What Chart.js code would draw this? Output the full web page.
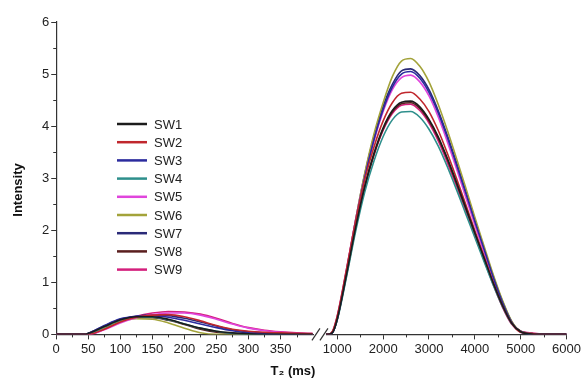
<!DOCTYPE html>
<html>
<head>
<meta charset="utf-8">
<script src="https://cdn.jsdelivr.net/npm/chart.js@4.4.1/dist/chart.umd.min.js"></script>
<style>
  html, body { margin: 0; padding: 0; background: #fff; }
  #wrap { width: 583px; height: 383px; }
</style>
</head>
<body>
<div id="wrap"><canvas id="t2Chart"></canvas></div>
<script>
// T2 (ms) sampling of the two segments of the broken axis
const t2Short = [0, 25, 45, 50, 75, 100, 125, 150, 175, 200, 225, 250, 275, 300, 325, 350, 375, 400];
const t2Long = [600, 800, 900, 1000, 1200, 1400, 1600, 1800, 2000, 2200, 2400, 2600, 2800, 3000, 3200, 3400, 3600, 3800, 4000, 4200, 4400, 4600, 4800, 5000, 5200, 5400, 5600, 6000];

const sampleNames = ['SW1', 'SW2', 'SW3', 'SW4', 'SW5', 'SW6', 'SW7', 'SW8', 'SW9'];
const sampleColors = ['#1c1c1c', '#c0272d', '#2b2b9e', '#2e8f8c', '#e045dc', '#a3a33a', '#2a2a78', '#5a1e1e', '#d41f7c'];

// small peak (0 - 400 ms)
const sw1Short = [0, 0, 0, 0.02, 0.15, 0.28, 0.34, 0.34, 0.29, 0.20, 0.12, 0.06, 0.03, 0.01, 0, 0, 0, 0];
const sw2Short = [0, 0, 0, 0, 0.10, 0.24, 0.33, 0.37, 0.38, 0.34, 0.26, 0.17, 0.10, 0.06, 0.04, 0.03, 0.02, 0.01];
const sw3Short = [0, 0, 0, 0.02, 0.17, 0.30, 0.35, 0.36, 0.33, 0.27, 0.20, 0.13, 0.07, 0.03, 0.01, 0, 0, 0];
const sw4Short = [0, 0, 0, 0.01, 0.14, 0.27, 0.33, 0.33, 0.28, 0.20, 0.12, 0.06, 0.02, 0, 0, 0, 0, 0];
const sw5Short = [0, 0, 0, 0, 0.09, 0.22, 0.32, 0.38, 0.41, 0.41, 0.37, 0.29, 0.20, 0.12, 0.07, 0.04, 0.02, 0.01];
const sw6Short = [0, 0, 0, 0.01, 0.13, 0.25, 0.30, 0.29, 0.22, 0.12, 0.03, 0, 0, 0, 0, 0, 0, 0];
const sw7Short = [0, 0, 0, 0.02, 0.16, 0.29, 0.35, 0.37, 0.36, 0.31, 0.24, 0.16, 0.09, 0.05, 0.03, 0.01, 0, 0];
const sw8Short = [0, 0, 0, 0.01, 0.13, 0.26, 0.32, 0.32, 0.27, 0.19, 0.10, 0.04, 0.01, 0, 0, 0, 0, 0];
const sw9Short = [0, 0, 0, 0, 0.10, 0.25, 0.35, 0.41, 0.44, 0.43, 0.39, 0.31, 0.21, 0.13, 0.08, 0.05, 0.03, 0.02];

// main peak (600 - 6000 ms)
const sw1Long = [0, 0, 0.04, 0.30, 1.15, 2.05, 2.85, 3.48, 3.97, 4.30, 4.46, 4.48, 4.37, 4.13, 3.80, 3.38, 2.92, 2.44, 1.95, 1.47, 0.99, 0.56, 0.22, 0.05, 0.01, 0, 0, 0];
const sw2Long = [0, 0, 0.07, 0.36, 1.25, 2.18, 2.98, 3.60, 4.10, 4.45, 4.63, 4.65, 4.52, 4.28, 3.92, 3.48, 3.00, 2.50, 1.99, 1.50, 1.00, 0.56, 0.22, 0.04, 0.02, 0, 0, 0];
const sw3Long = [0, 0, 0.04, 0.30, 1.18, 2.15, 3.02, 3.74, 4.32, 4.75, 5.00, 5.05, 4.92, 4.65, 4.26, 3.78, 3.26, 2.72, 2.17, 1.64, 1.10, 0.62, 0.24, 0.04, 0.01, 0, 0, 0];
const sw4Long = [0, 0, 0.04, 0.28, 1.10, 1.98, 2.74, 3.33, 3.80, 4.12, 4.27, 4.28, 4.17, 3.94, 3.62, 3.22, 2.78, 2.32, 1.86, 1.40, 0.95, 0.54, 0.21, 0.05, 0.01, 0, 0, 0];
const sw5Long = [0, 0, 0.06, 0.35, 1.25, 2.20, 3.02, 3.72, 4.28, 4.70, 4.93, 4.98, 4.85, 4.58, 4.18, 3.70, 3.18, 2.64, 2.10, 1.58, 1.05, 0.58, 0.22, 0.05, 0.02, 0, 0, 0];
const sw6Long = [0, 0, 0.05, 0.30, 1.20, 2.20, 3.10, 3.85, 4.45, 4.95, 5.25, 5.30, 5.15, 4.85, 4.42, 3.92, 3.38, 2.82, 2.25, 1.70, 1.15, 0.66, 0.26, 0.05, 0.02, 0, 0, 0];
const sw7Long = [0, 0, 0.05, 0.32, 1.22, 2.20, 3.08, 3.80, 4.38, 4.80, 5.06, 5.10, 4.97, 4.70, 4.30, 3.82, 3.30, 2.76, 2.20, 1.66, 1.12, 0.64, 0.25, 0.05, 0.02, 0, 0, 0];
const sw8Long = [0, 0, 0.04, 0.29, 1.13, 2.03, 2.82, 3.45, 3.94, 4.27, 4.43, 4.45, 4.34, 4.10, 3.77, 3.36, 2.90, 2.43, 1.95, 1.47, 1.00, 0.57, 0.23, 0.06, 0.02, 0, 0, 0];
const sw9Long = [0, 0, 0.06, 0.34, 1.20, 2.08, 2.85, 3.45, 3.92, 4.24, 4.40, 4.42, 4.30, 4.06, 3.72, 3.30, 2.85, 2.38, 1.90, 1.43, 0.96, 0.53, 0.20, 0.06, 0.03, 0.01, 0, 0];

const shortSeries = [sw1Short, sw2Short, sw3Short, sw4Short, sw5Short, sw6Short, sw7Short, sw8Short, sw9Short];
const longSeries = [sw1Long, sw2Long, sw3Long, sw4Long, sw5Long, sw6Long, sw7Long, sw8Long, sw9Long];

const yTicks = [0, 1, 2, 3, 4, 5, 6];
const yMinor = [0.5, 1.5, 2.5, 3.5, 4.5, 5.5];
const xShortTicks = [0, 50, 100, 150, 200, 250, 300, 350];
const xShortMinor = [25, 75, 125, 175, 225, 275, 325, 375];
const xLongTicks = [1000, 2000, 3000, 4000, 5000, 6000];
const xLongMinor = [1500, 2500, 3500, 4500, 5500];

const FONT = "'Liberation Sans', Arial, sans-serif";

function toPoints(xs, ys) {
  return xs.map((x, i) => ({ x: x, y: ys[i] }));
}

const datasets = [];
sampleNames.forEach((name, i) => {
  const common = {
    label: name,
    borderColor: sampleColors[i],
    backgroundColor: sampleColors[i],
    borderWidth: 1.6,
    pointRadius: 0,
    cubicInterpolationMode: 'monotone',
    fill: false
  };
  datasets.push(Object.assign({}, common, { data: toPoints(t2Short, shortSeries[i]), xAxisID: 'xShort' }));
  datasets.push(Object.assign({}, common, { data: toPoints(t2Long, longSeries[i]), xAxisID: 'xLong' }));
});

// minor ticks, legend inside the plot, titles and the axis break
const decorations = {
  id: 'decorations',
  beforeDatasetsDraw(chart) {
    const ctx = chart.ctx;
    const { xShort, xLong, y } = chart.scales;
    ctx.save();
    ctx.strokeStyle = '#333';
    ctx.lineWidth = 1;
    ctx.beginPath();
    xShortMinor.forEach(v => {
      const px = Math.round(xShort.getPixelForValue(v)) + 0.5;
      ctx.moveTo(px, y.bottom);
      ctx.lineTo(px, y.bottom + 3);
    });
    xLongMinor.forEach(v => {
      const px = Math.round(xLong.getPixelForValue(v)) + 0.5;
      ctx.moveTo(px, y.bottom);
      ctx.lineTo(px, y.bottom + 3);
    });
    yMinor.forEach(v => {
      const py = Math.round(y.getPixelForValue(v)) + 0.5;
      ctx.moveTo(y.right - 3, py);
      ctx.lineTo(y.right, py);
    });
    ctx.stroke();
    ctx.restore();
  },
  afterDraw(chart) {
    const ctx = chart.ctx;
    const xs = chart.scales.xShort;
    const yScale = chart.scales.y;
    ctx.save();

    // axis break marks
    const bx = xs.right + 1;
    const by = yScale.bottom;
    ctx.fillStyle = '#fff';
    ctx.fillRect(bx - 6, by - 2, 12, 4);
    ctx.strokeStyle = '#333';
    ctx.lineWidth = 1.2;
    [-4, 4].forEach(off => {
      ctx.beginPath();
      ctx.moveTo(bx + off - 4, by + 6);
      ctx.lineTo(bx + off + 4, by - 6);
      ctx.stroke();
    });

    // legend
    ctx.font = '13px ' + FONT;
    ctx.textBaseline = 'middle';
    ctx.textAlign = 'left';
    sampleNames.forEach((name, i) => {
      const ly = 124 + i * 18.2;
      ctx.strokeStyle = sampleColors[i];
      ctx.lineWidth = 2.5;
      ctx.beginPath();
      ctx.moveTo(117, ly);
      ctx.lineTo(147, ly);
      ctx.stroke();
      ctx.fillStyle = '#222';
      ctx.fillText(name, 154, ly + 1);
    });

    // axis titles
    ctx.fillStyle = '#111';
    ctx.font = 'bold 13px ' + FONT;
    ctx.textAlign = 'center';
    ctx.fillText('T\u2082 (ms)', 293, 371);
    ctx.translate(18, 190);
    ctx.rotate(-Math.PI / 2);
    ctx.fillText('Intensity', 0, 0);
    ctx.restore();
  }
};

function tickOpts(values) {
  return {
    color: '#222',
    font: { family: FONT, size: 13 },
    padding: 2,
    autoSkip: false,
    maxRotation: 0,
    callback: v => values.includes(v) ? String(v) : ''
  };
}

const axisGrid = {
  drawOnChartArea: false,
  drawTicks: true,
  tickLength: 5,
  color: '#333'
};

new Chart(document.getElementById('t2Chart').getContext('2d'), {
  type: 'line',
  data: { datasets: datasets },
  options: {
    responsive: true,
    maintainAspectRatio: false,
    animation: false,
    layout: { padding: { left: 40, right: 4, top: 22, bottom: 24 } },
    plugins: {
      legend: { display: false },
      tooltip: { enabled: false }
    },
    scales: {
      xShort: {
        type: 'linear',
        position: 'bottom',
        stack: 't2',
        stackWeight: 260,
        min: 0,
        max: 410,
        border: { color: '#333', width: 1.2 },
        grid: axisGrid,
        afterBuildTicks: axis => { axis.ticks = xShortTicks.map(v => ({ value: v })); },
        ticks: tickOpts(xShortTicks)
      },
      xLong: {
        type: 'linear',
        position: 'bottom',
        stack: 't2',
        stackWeight: 245,
        min: 600,
        max: 6000,
        border: { color: '#333', width: 1.2 },
        grid: axisGrid,
        afterBuildTicks: axis => { axis.ticks = xLongTicks.map(v => ({ value: v })); },
        ticks: tickOpts(xLongTicks)
      },
      y: {
        type: 'linear',
        position: 'left',
        min: 0,
        max: 6,
        border: { color: '#333', width: 1.2 },
        grid: axisGrid,
        afterBuildTicks: axis => { axis.ticks = yTicks.map(v => ({ value: v })); },
        ticks: tickOpts(yTicks)
      }
    }
  },
  plugins: [decorations]
});
</script>
</body>
</html>
